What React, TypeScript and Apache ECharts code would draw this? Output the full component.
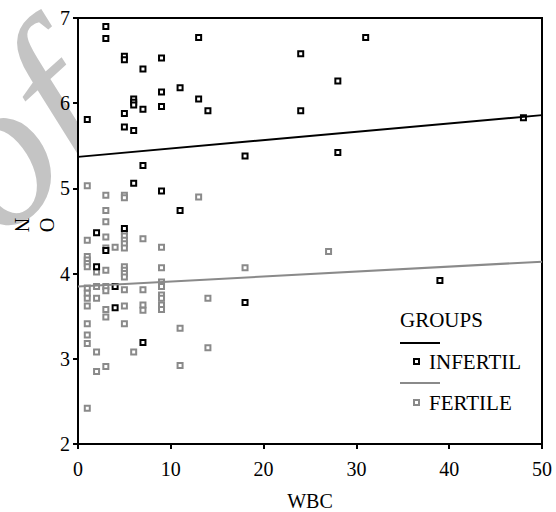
import React, { useEffect, useRef } from "react";
import * as echarts from "echarts";

// WBC (x) vs NO (y) — INFERTIL group
const infertilData: [number, number][] = [
  [3, 6.9], [3, 6.76], [13, 6.77], [31, 6.77], [5, 6.55], [5, 6.51], [9, 6.53], [24, 6.58],
  [7, 6.4], [28, 6.26], [11, 6.18], [9, 6.13], [6, 6.05], [6, 6.01], [6, 5.98], [13, 6.05],
  [9, 5.96], [7, 5.93], [14, 5.91], [24, 5.91], [5, 5.88], [1, 5.81], [48, 5.83], [5, 5.72],
  [6, 5.68], [18, 5.38], [28, 5.42], [7, 5.27], [6, 5.06], [9, 4.97], [11, 4.74], [5, 4.53],
  [2, 4.48], [3, 4.27], [2, 4.08], [4, 3.85], [39, 3.92], [18, 3.66], [4, 3.6], [7, 3.19],
];

// WBC (x) vs NO (y) — FERTILE group
const fertileData: [number, number][] = [
  [1, 5.03], [3, 4.92], [5, 4.92], [5, 4.89], [13, 4.9], [3, 4.74], [3, 4.61], [5, 4.49],
  [5, 4.44], [5, 4.39], [5, 4.35], [5, 4.3], [3, 4.43], [1, 4.39], [7, 4.41], [3, 4.3],
  [4, 4.31], [9, 4.31], [1, 4.2], [1, 4.16], [1, 4.12], [1, 4.08], [2, 4.02], [3, 4.04],
  [5, 4.08], [5, 4.04], [5, 4.0], [5, 3.96], [9, 4.07], [18, 4.07], [27, 4.26], [2, 3.85],
  [3, 3.85], [3, 3.8], [1, 3.83], [1, 3.77], [5, 3.81], [7, 3.81], [9, 3.9], [9, 3.85],
  [1, 3.71], [2, 3.71], [9, 3.75], [9, 3.71], [14, 3.71], [1, 3.62], [3, 3.58], [5, 3.62],
  [7, 3.63], [7, 3.57], [9, 3.63], [9, 3.58], [3, 3.49], [1, 3.41], [5, 3.41], [11, 3.36],
  [1, 3.28], [1, 3.18], [2, 3.08], [6, 3.08], [14, 3.13], [3, 2.91], [2, 2.85], [11, 2.92],
  [1, 2.42],
];

// Linear fit lines
const fitInfertil = { intercept: 5.37, slope: 0.0098 };
const fitFertile = { intercept: 3.85, slope: 0.0058 };

const xRange = [0, 50];
const yRange = [2, 7];
const groupNames = ["INFERTIL", "FERTILE"];
const legendTitle = "GROUPS";
const xAxisName = "WBC";
const yAxisLetters = ["N", "O"];
const watermarkText = "of";

const BLACK = "#000000";
const GREY = "#8a8a8a";
const FONT = "'Liberation Serif', 'Times New Roman', serif";

function fitLine(f: { intercept: number; slope: number }): [number, number][] {
  return [
    [xRange[0], f.intercept + f.slope * xRange[0]],
    [xRange[1], f.intercept + f.slope * xRange[1]],
  ];
}

export default function App() {
  const ref = useRef<HTMLDivElement>(null);

  useEffect(() => {
    if (!ref.current) return;
    const chart = echarts.init(ref.current, null, { renderer: "svg" });

    const axisCommon = {
      type: "value" as const,
      axisLine: { show: true, lineStyle: { color: BLACK, width: 2 } },
      axisTick: { show: true, inside: false, length: 5, lineStyle: { color: BLACK, width: 2 } },
      axisLabel: { color: BLACK, fontSize: 20, fontFamily: FONT },
      splitLine: { show: false },
    };

    const scatterStyle = (c: string) => ({
      color: "#ffffff",
      borderColor: c,
      borderWidth: 2,
      opacity: 1,
    });

    chart.setOption({
      animation: false,
      backgroundColor: "#ffffff",
      textStyle: { fontFamily: FONT },
      grid: {
        left: 78,
        right: 14,
        top: 18,
        bottom: 68,
        outerBoundsMode: "none",
        containLabel: false,
        show: true,
        backgroundColor: "#ffffff",
        borderColor: BLACK,
        borderWidth: 2,
        z: 1,
      },
      xAxis: {
        ...axisCommon,
        min: xRange[0],
        max: xRange[1],
        interval: 10,
        name: xAxisName,
        nameLocation: "middle",
        nameGap: 47,
        nameTextStyle: { color: BLACK, fontSize: 20, fontFamily: FONT },
        axisLabel: { ...axisCommon.axisLabel, margin: 15 },
      },
      yAxis: {
        ...axisCommon,
        min: yRange[0],
        max: yRange[1],
        interval: 1,
        axisLabel: { ...axisCommon.axisLabel, margin: 8 },
      },
      legend: {
        show: true,
        orient: "vertical",
        left: 408,
        top: 346,
        itemWidth: 5,
        itemHeight: 5,
        itemGap: 20,
        icon: "rect",
        textStyle: { color: BLACK, fontSize: 21, fontFamily: FONT, padding: [10, 0, 0, 5] },
        data: [
          { name: groupNames[0], itemStyle: scatterStyle(BLACK) },
          { name: groupNames[1], itemStyle: scatterStyle(GREY) },
        ],
      },
      series: [
        {
          name: groupNames[1],
          type: "scatter",
          symbol: "rect",
          symbolSize: 5,
          data: fertileData,
          itemStyle: scatterStyle(GREY),
          z: 3,
        },
        {
          name: groupNames[0],
          type: "scatter",
          symbol: "rect",
          symbolSize: 5,
          data: infertilData,
          itemStyle: scatterStyle(BLACK),
          z: 4,
        },
        {
          name: groupNames[0] + " fit",
          type: "line",
          data: fitLine(fitInfertil),
          symbol: "none",
          lineStyle: { color: BLACK, width: 2 },
          z: 5,
        },
        {
          name: groupNames[1] + " fit",
          type: "line",
          data: fitLine(fitFertile),
          symbol: "none",
          lineStyle: { color: GREY, width: 2 },
          z: 5,
        },
      ],
      graphic: [
        {
          type: "text",
          x: -48,
          y: 190,
          rotation: 0.733,
          z: -10,
          silent: true,
          style: {
            text: watermarkText,
            fontSize: 210,
            fontStyle: "italic",
            fontFamily: FONT,
            fill: "#c4c4c4",
            align: "left",
            verticalAlign: "middle",
          },
        },
        {
          type: "text",
          x: 22,
          y: 225,
          rotation: -Math.PI / 2,
          z: 10,
          style: { text: yAxisLetters[0], fontSize: 20, fontFamily: FONT, fill: BLACK, align: "center", verticalAlign: "middle" },
        },
        {
          type: "text",
          x: 47,
          y: 225,
          rotation: -Math.PI / 2,
          z: 10,
          style: { text: yAxisLetters[1], fontSize: 20, fontFamily: FONT, fill: BLACK, align: "center", verticalAlign: "middle" },
        },
        {
          type: "text",
          x: 400,
          y: 320,
          z: 10,
          style: { text: legendTitle, fontSize: 21, fontFamily: FONT, fill: BLACK, align: "left", verticalAlign: "middle" },
        },
        {
          type: "line",
          z: 10,
          shape: { x1: 400, y1: 343, x2: 440, y2: 343 },
          style: { stroke: BLACK, lineWidth: 2 },
        },
        {
          type: "line",
          z: 10,
          shape: { x1: 400, y1: 383, x2: 440, y2: 383 },
          style: { stroke: GREY, lineWidth: 2 },
        },
      ],
    });

    return () => chart.dispose();
  }, []);

  return (
    <div
      ref={ref}
      style={{ position: "fixed", left: 0, top: 0, width: 556, height: 512 }}
    />
  );
}
